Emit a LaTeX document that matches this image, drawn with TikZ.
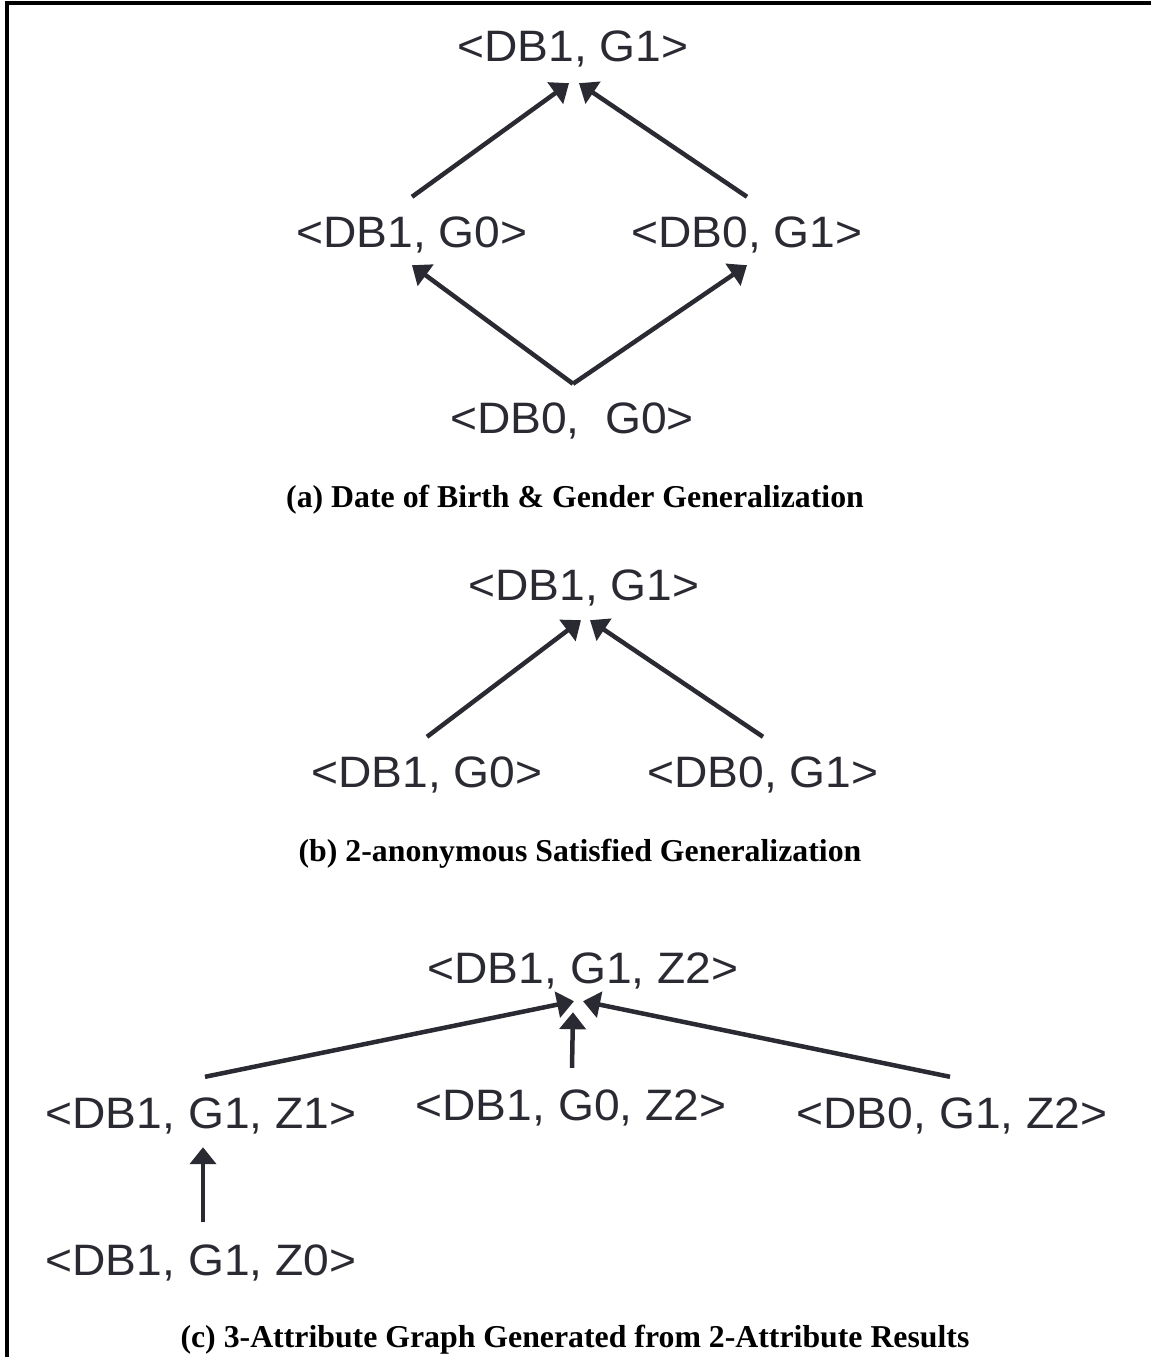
\documentclass[tikz,border=0pt]{standalone}
\usepackage{fontspec}
\setmainfont{Liberation Serif}
\newfontfamily\lblfont[FakeStretch=1.05]{Liberation Sans}
\usetikzlibrary{arrows.meta}
\definecolor{ink}{HTML}{2A2A33}
\begin{document}
\begin{tikzpicture}[x=1pt,y=-1pt,
  state/.style={inner sep=0pt, anchor=base, text height=30pt, text depth=9pt,
    text=ink, font=\lblfont\fontsize{44}{52}\selectfont},
  caption/.style={inner sep=0pt, anchor=base,
    font=\bfseries\fontsize{31.8}{36}\selectfont},
  arr/.style={draw=ink, line width=4.5pt, -{Triangle[length=17pt,width=26pt]}},
  frame/.style={draw=black, line width=4pt}]
\useasboundingbox (0,0) rectangle (1151,1357);

% frame
\draw[frame] (7,1357) -- (7,3) -- (1151,3);

% (a) full lattice
\node[state] (a11) at (573,61)  {<DB1, G1>};
\node[state] (a10) at (412,247) {<DB1, G0>};
\node[state] (a01) at (747,247) {<DB0, G1>};
\node[state] (a00) at (572,433) {<DB0,\ \ G0>};
\node[caption] (capA) at (575,507) {(a) Date of Birth \& Gender Generalization};

\draw[arr] ([shift={(0,-20)}]a10.north) -- ([shift={(-4,13)}]a11.south);
\draw[arr] ([shift={(0,-20)}]a01.north) -- ([shift={(6,13)}]a11.south);
\draw[arr] ([shift={(1,-19)}]a00.north) -- ([shift={(0,9)}]a10.south);
\draw[arr] ([shift={(1,-19)}]a00.north) -- ([shift={(0,9)}]a01.south);

% (b) satisfied sub-lattice
\node[state] (b11) at (584,600) {<DB1, G1>};
\node[state] (b10) at (427,787) {<DB1, G0>};
\node[state] (b01) at (763,787) {<DB0, G1>};
\node[caption] (capB) at (580,861) {(b) 2-anonymous Satisfied Generalization};

\draw[arr] ([shift={(0,-20)}]b10.north) -- ([shift={(-3,11)}]b11.south);
\draw[arr] ([shift={(0,-20)}]b01.north) -- ([shift={(6,11)}]b11.south);

% (c) three-attribute graph
\node[state] (c112) at (583,983)  {<DB1, G1, Z2>};
\node[state] (c111) at (201,1128) {<DB1, G1, Z1>};
\node[state] (c102) at (571,1120) {<DB1, G0, Z2>};
\node[state] (c012) at (952,1128) {<DB0, G1, Z2>};
\node[state] (c110) at (201,1275) {<DB1, G1, Z0>};
\node[caption] (capC) at (575,1347) {(c) 3-Attribute Graph Generated from 2-Attribute Results};

\draw[arr] ([shift={(4,-21)}]c111.north) -- ([shift={(-9,9)}]c112.south);
\draw[arr] ([shift={(-2,-21)}]c012.north) -- ([shift={(0,9)}]c112.south);
\draw[arr] ([shift={(1,-22)}]c102.north) -- ([shift={(-10,20)}]c112.south);
\draw[arr] ([shift={(2,-23)}]c110.north) -- ([shift={(2,10)}]c111.south);
\end{tikzpicture}
\end{document}
